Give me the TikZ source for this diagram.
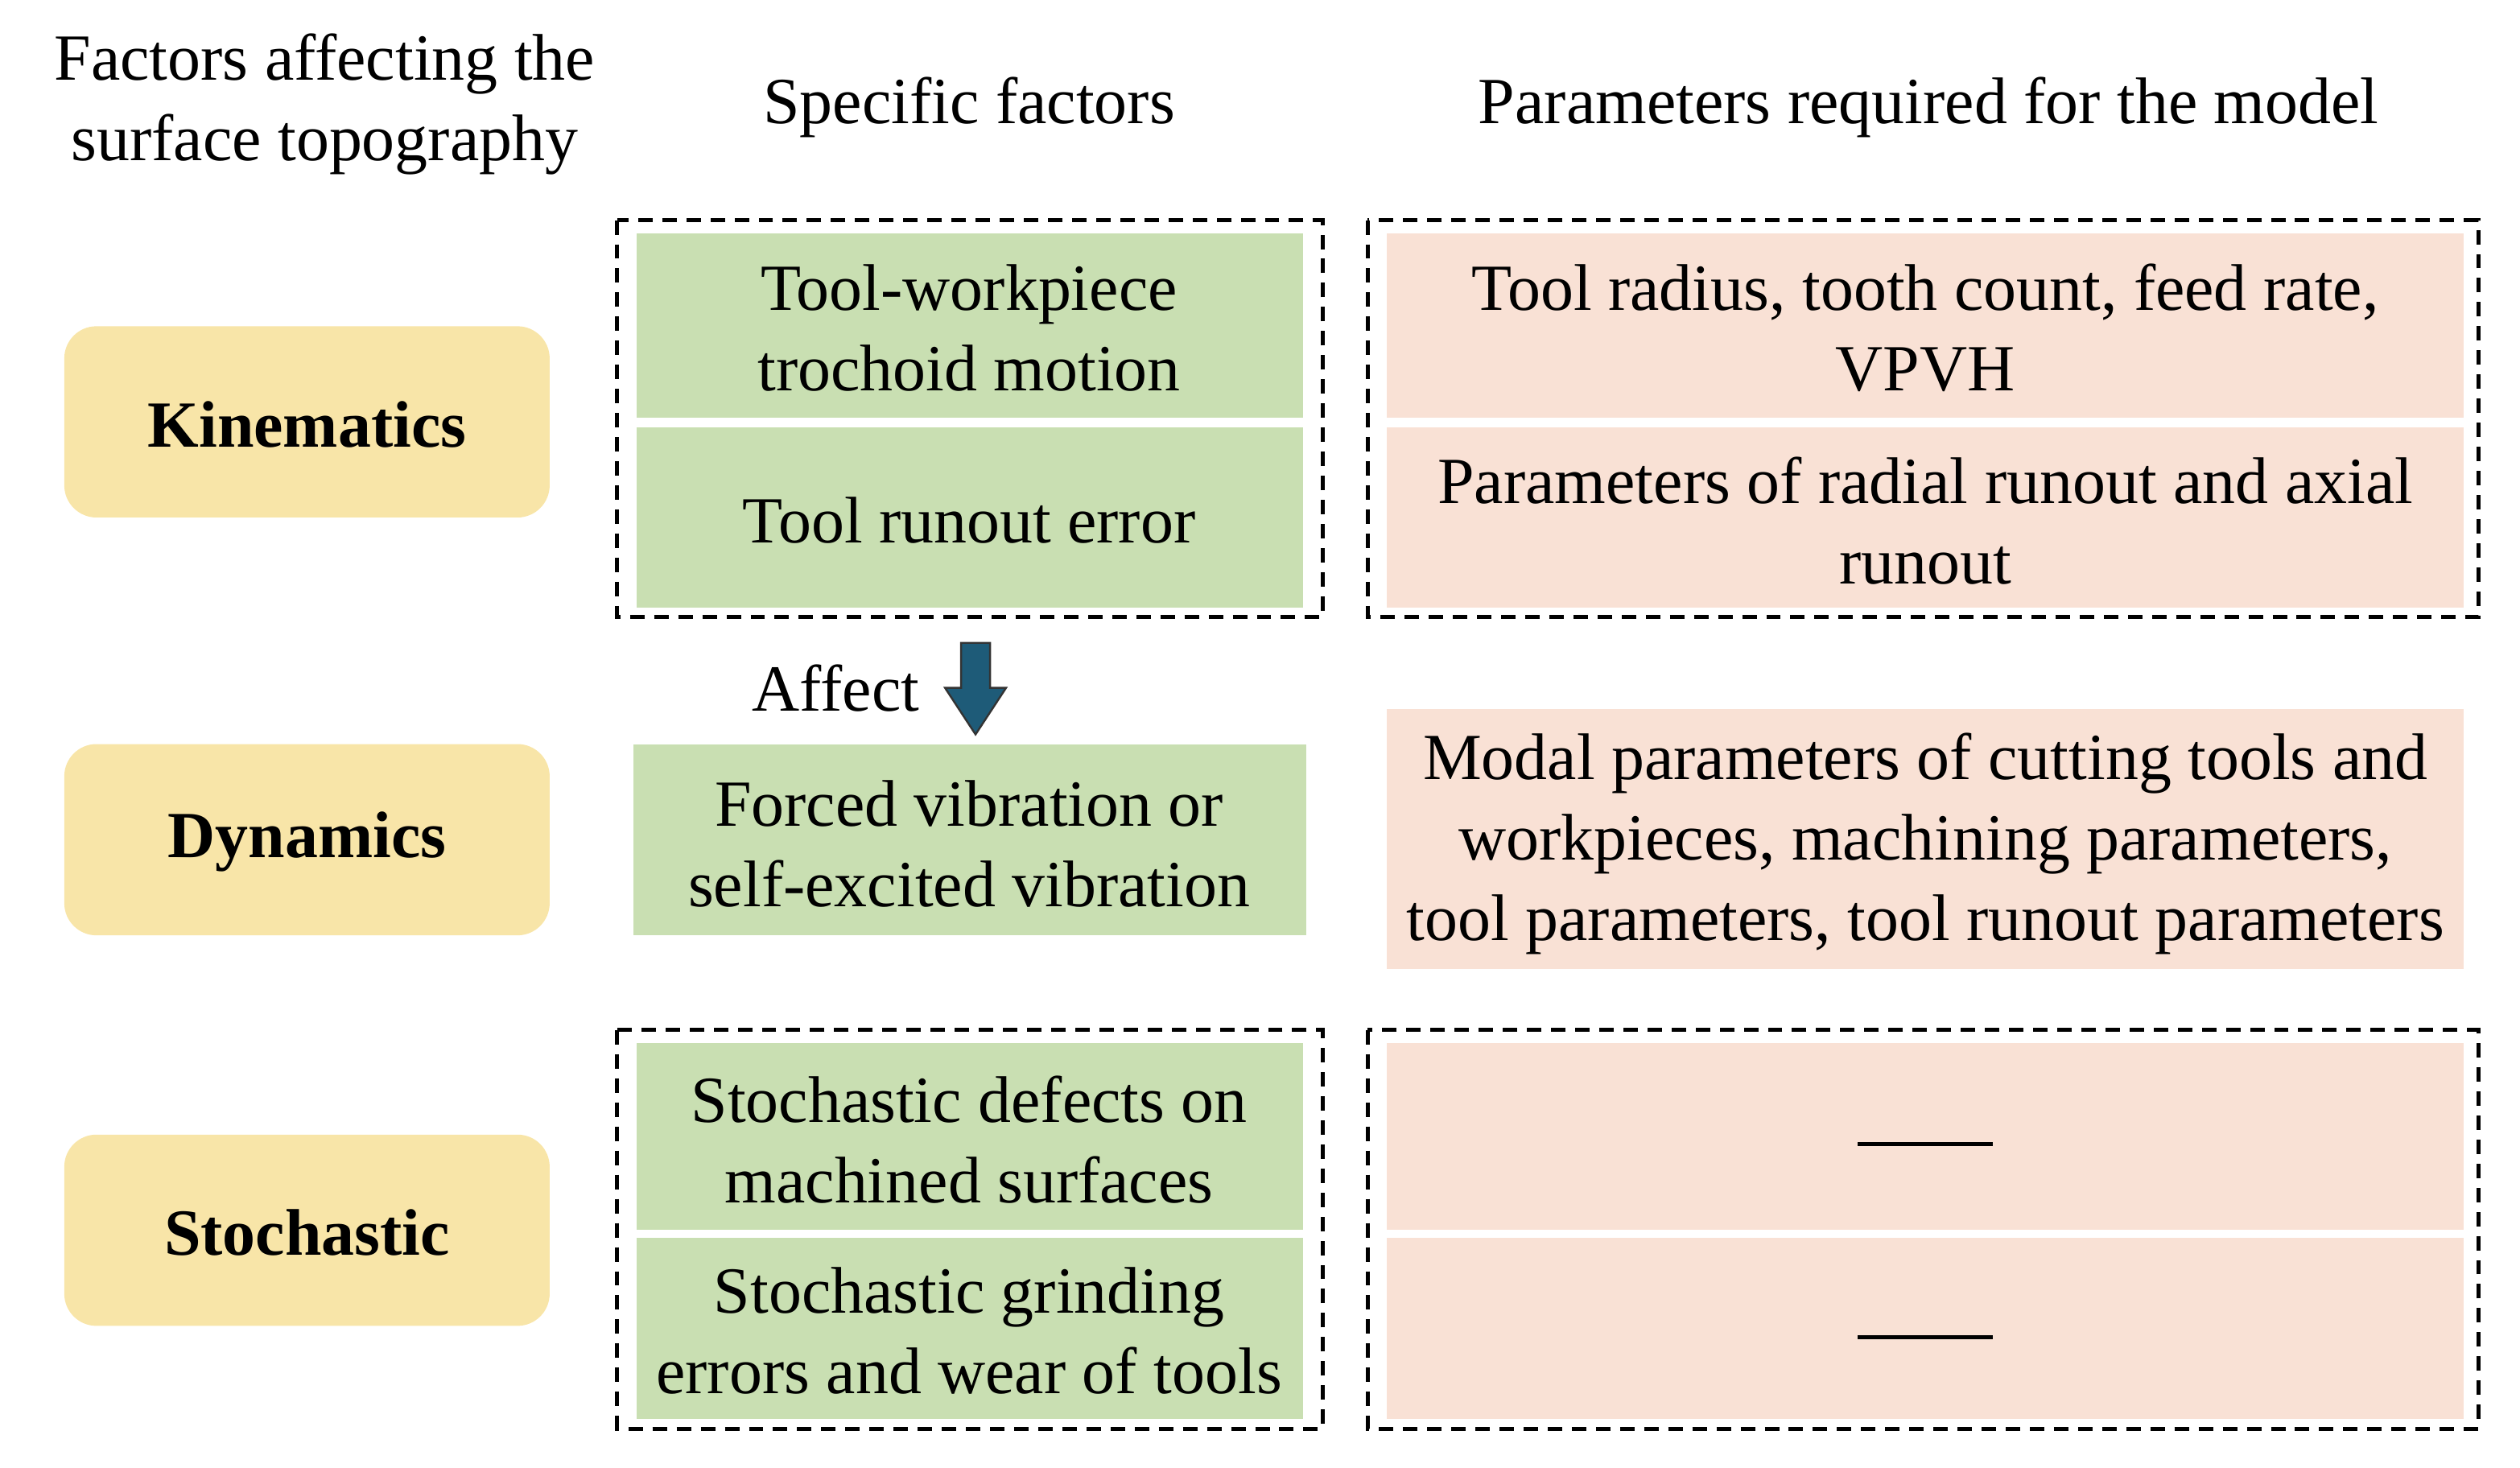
\documentclass[tikz,border=0pt]{standalone}
\usepackage{fontspec}
\setmainfont{Liberation Serif}
\definecolor{ylw}{HTML}{F8E5A8}
\definecolor{grn}{HTML}{C9DFB2}
\definecolor{pnk}{HTML}{F9E1D5}
\definecolor{arr}{HTML}{1E5B78}
\begin{document}
\begin{tikzpicture}[x=1pt,y=-1pt,
  txt/.style={font=\fontsize{41}{50}\selectfont,align=center},
  ybox/.style={fill=ylw,rounded corners=20pt,font=\fontsize{41}{50}\selectfont\bfseries},
  gbox/.style={fill=grn},
  pbox/.style={fill=pnk},
  dbox/.style={draw=black,line width=2.5pt,dash pattern=on 9pt off 6pt}]
\useasboundingbox (0,0) rectangle (1568,913);
\node[txt] (h1) at (202,65) {Factors affecting the\\surface topography};
\node[txt] (h2) at (603,67) {Specific factors};
\node[txt] (h3) at (1200,67) {Parameters required for the model};
% yellow
\path[ybox] (40,203) rectangle (342,322); \node[ybox,fill=none] (k) at (191,264) {Kinematics};
\path[ybox] (40,463) rectangle (342,582); \node[ybox,fill=none] (d) at (191,524) {Dynamics};
\path[ybox] (40,706) rectangle (342,825); \node[ybox,fill=none] (s) at (191,767) {Stochastic};
% dashed
\draw[dbox] (384,137) rectangle (823,384);
\draw[dbox] (851,137) rectangle (1542,384);
\draw[dbox] (384,641) rectangle (823,889);
\draw[dbox] (851,641) rectangle (1542,889);
% green
\fill[gbox] (396,145) rectangle (811,260); \node[txt] (g1) at (603,204) {Tool-workpiece\\trochoid motion};
\fill[gbox] (396,266) rectangle (811,378); \node[txt] (g2) at (603,324) {Tool runout error};
\fill[gbox] (394,463) rectangle (813,582); \node[txt] (g3) at (603,525) {Forced vibration or\\self-excited vibration};
\fill[gbox] (396,649) rectangle (811,765); \node[txt] (g4) at (603,709) {Stochastic defects on\\machined surfaces};
\fill[gbox] (396,770) rectangle (811,883); \node[txt] (g5) at (603,828) {Stochastic grinding\\errors and wear of tools};
% pink
\fill[pbox] (863,145) rectangle (1533,260); \node[txt] (p1) at (1198,204) {Tool radius, tooth count, feed rate,\\VPVH};
\fill[pbox] (863,266) rectangle (1533,378); \node[txt] (p2) at (1198,324) {Parameters of radial runout and axial\\runout};
\fill[pbox] (863,441) rectangle (1533,603); \node[txt] (p3) at (1198,525) {Modal parameters of cutting tools and\\workpieces, machining parameters,\\tool parameters, tool runout parameters};
\fill[pbox] (863,649) rectangle (1533,765); \node (p4) at (1198,712) {};
\fill[pbox] (863,770) rectangle (1533,883); \node (p5) at (1198,832) {};
\draw[line width=2.5pt] (1156,712) -- (1240,712);
\draw[line width=2.5pt] (1156,832) -- (1240,832);
% arrow
\draw[fill=arr,draw=black!80,line width=1.2pt] (598,400) -- (616,400) -- (616,428) -- (626,428) -- (607,457) -- (588,428) -- (598,428) -- cycle;
\node[txt] (af) at (520,428) {Affect};
\end{tikzpicture}
\end{document}
